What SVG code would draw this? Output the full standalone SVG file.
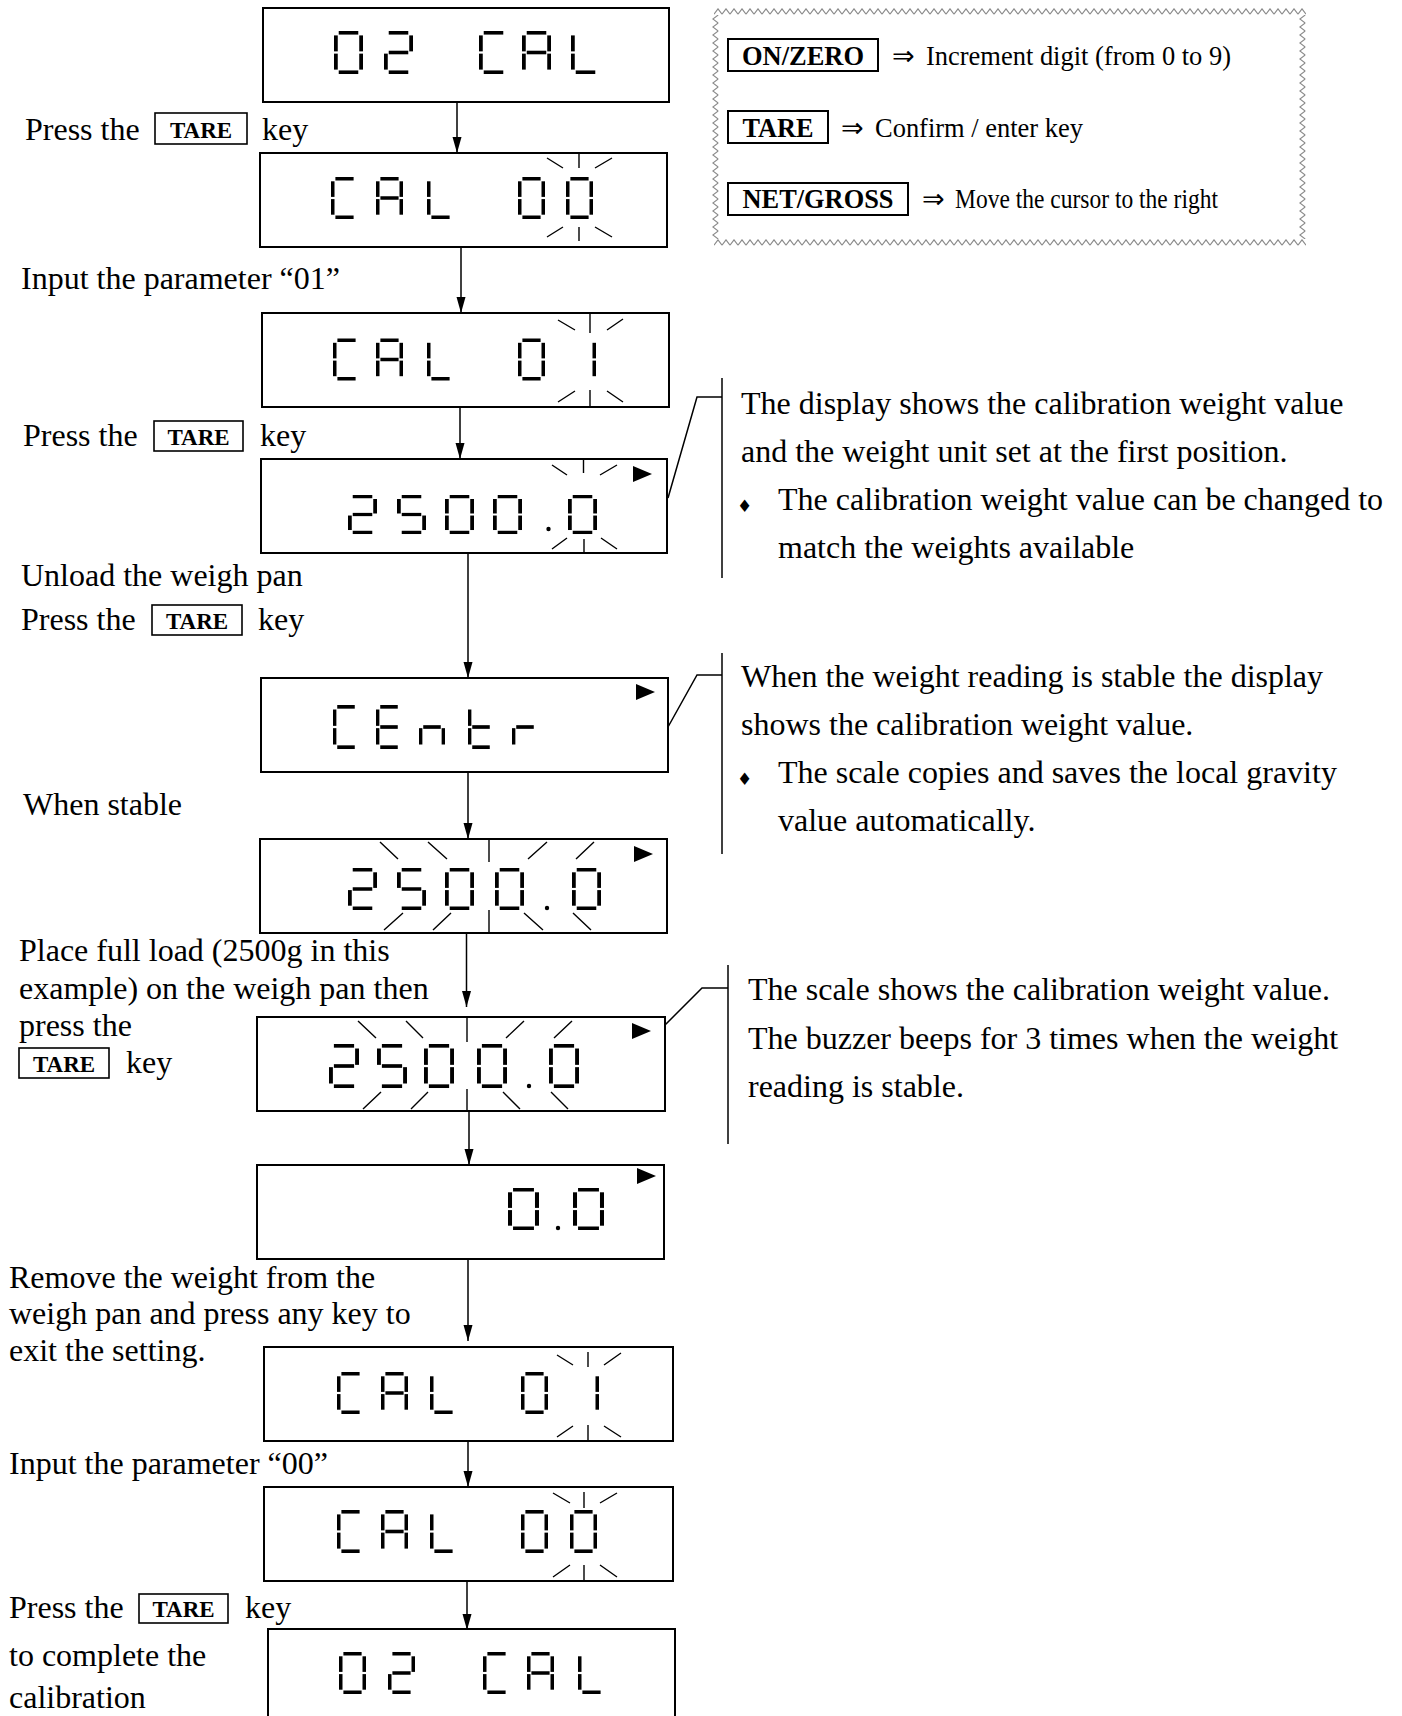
<svg xmlns="http://www.w3.org/2000/svg" width="1402" height="1716" viewBox="0 0 1402 1716">
<style>
.bx{fill:#fff;stroke:#000;stroke-width:2}
.t{font-family:"Liberation Serif","Times New Roman","DejaVu Serif",serif;font-size:32px;fill:#000}
.kt{font-family:"Liberation Serif","Times New Roman",serif;font-weight:bold;font-size:23px;text-anchor:middle;fill:#000}
.kb{fill:none;stroke:#000;stroke-width:1.6}
.c{stroke:#000;stroke-width:1.5;fill:none}
.bl{stroke:#000;stroke-width:1.4;fill:none}
.lg{font-family:"Liberation Serif","Times New Roman",serif;font-size:27px;fill:#000}
.lk{font-family:"Liberation Serif","Times New Roman",serif;font-weight:bold;font-size:27px;text-anchor:middle;fill:#000}
.ar{font-family:"DejaVu Sans",sans-serif;font-size:27px;fill:#000}
.bu{font-family:"DejaVu Sans",sans-serif;font-size:17px;fill:#000}
.zz{fill:none;stroke:#8a8a8a;stroke-width:1.1}
</style>
<defs>
<rect id="sa" x="4.4" y="0" width="18.2" height="3.5"/>
<rect id="sb" x="23.5" y="4.3" width="3.5" height="15.6"/>
<rect id="sc" x="23.5" y="22.1" width="3.5" height="15.6"/>
<rect id="sd" x="4.4" y="38.5" width="18.2" height="3.5"/>
<rect id="se" x="0" y="22.1" width="3.5" height="15.6"/>
<rect id="sf" x="0" y="4.3" width="3.5" height="15.6"/>
<rect id="sg" x="4.4" y="19.25" width="18.2" height="3.5"/>
<g id="g0"><use href="#sa"/><use href="#sb"/><use href="#sc"/><use href="#sd"/><use href="#se"/><use href="#sf"/></g>
<g id="g1"><use href="#sb"/><use href="#sc"/></g>
<g id="g2"><use href="#sa"/><use href="#sb"/><use href="#sg"/><use href="#se"/><use href="#sd"/></g>
<g id="g5"><use href="#sa"/><use href="#sf"/><use href="#sg"/><use href="#sc"/><use href="#sd"/></g>
<g id="gC"><use href="#sa"/><use href="#sf"/><use href="#se"/><use href="#sd"/></g>
<g id="gA"><use href="#sa"/><use href="#sb"/><use href="#sc"/><use href="#se"/><use href="#sf"/><use href="#sg"/></g>
<g id="gL"><use href="#sf"/><use href="#se"/><use href="#sd"/></g>
<g id="gE"><use href="#sa"/><use href="#sf"/><use href="#sg"/><use href="#se"/><use href="#sd"/></g>
<g id="gn"><use href="#se"/><use href="#sg"/><use href="#sc"/></g>
<g id="gt"><use href="#sf"/><use href="#se"/><use href="#sg"/><use href="#sd"/></g>
<g id="gr"><use href="#se"/><use href="#sg"/></g>
<path id="tri" d="M0,0 L19,8 L0,16 Z"/>
<marker id="ah" markerWidth="16" markerHeight="10" refX="16" refY="4.5" orient="auto" markerUnits="userSpaceOnUse"><path d="M0,0 L16,4.5 L0,9 Z" fill="#000"/></marker>
<pattern id="zzh" width="8" height="7" patternUnits="userSpaceOnUse"><polyline class="zz" points="0,6.2 4,0.8 8,6.2"/></pattern>
<pattern id="zzv" width="7" height="8" patternUnits="userSpaceOnUse"><polyline class="zz" points="6.2,0 0.8,4 6.2,8"/></pattern>
</defs>

<g id="connectors">
<line class="c" x1="457" y1="102" x2="457" y2="153" marker-end="url(#ah)"/>
<line class="c" x1="461" y1="247" x2="461" y2="313" marker-end="url(#ah)"/>
<line class="c" x1="460" y1="407" x2="460" y2="459" marker-end="url(#ah)"/>
<line class="c" x1="468" y1="553" x2="468" y2="678" marker-end="url(#ah)"/>
<line class="c" x1="468" y1="772" x2="468" y2="839" marker-end="url(#ah)"/>
<line class="c" x1="466.5" y1="933" x2="466.5" y2="1007" marker-end="url(#ah)"/>
<line class="c" x1="469" y1="1111" x2="469" y2="1165" marker-end="url(#ah)"/>
<line class="c" x1="468" y1="1259" x2="468" y2="1341" marker-end="url(#ah)"/>
<line class="c" x1="468" y1="1441" x2="468" y2="1487" marker-end="url(#ah)"/>
<line class="c" x1="467" y1="1581" x2="467" y2="1630" marker-end="url(#ah)"/>
</g>

<g id="n1">
<rect class="bx" x="263" y="8" width="406" height="94"/>
<use href="#g0" transform="translate(334,31) scale(1.074,1.024)"/>
<use href="#g2" transform="translate(384,31) scale(1.074,1.024)"/>
<use href="#gC" transform="translate(479,31) scale(1.074,1.024)"/>
<use href="#gA" transform="translate(522,31) scale(1.074,1.024)"/>
<use href="#gL" transform="translate(571,31) scale(1.074,1.024)"/>
</g>

<g id="n2">
<rect class="bx" x="260" y="153" width="407" height="94"/>
<use href="#gC" x="331" y="177"/>
<use href="#gA" x="376" y="177"/>
<use href="#gL" x="427" y="177"/>
<use href="#g0" x="518" y="177"/>
<use href="#g0" x="566" y="177"/>
<path class="bl" d="M579,154V168 M547,158L563,168 M595,168L612,158 M579,227V241 M547,237L563,227 M595,227L612,237"/>
</g>

<g id="n3">
<rect class="bx" x="262" y="313" width="407" height="94"/>
<use href="#gC" x="333" y="338.5"/>
<use href="#gA" x="376" y="338.5"/>
<use href="#gL" x="427" y="338.5"/>
<use href="#g0" x="518" y="338.5"/>
<use href="#g1" x="569" y="338.5"/>
<path class="bl" d="M590,314V333 M558,320L575,330 M607,330L623,319 M590,390V406 M558,402L575,391 M607,391L623,402"/>
</g>

<g id="n4">
<rect class="bx" x="261" y="459" width="406" height="94"/>
<use href="#g2" transform="translate(348,495) scale(1.074,0.929)"/>
<use href="#g5" transform="translate(397,495) scale(1.074,0.929)"/>
<use href="#g0" transform="translate(445,495) scale(1.074,0.929)"/>
<use href="#g0" transform="translate(493,495) scale(1.074,0.929)"/>
<circle cx="548.5" cy="529" r="2.2"/>
<use href="#g0" transform="translate(568,495) scale(1.074,0.929)"/>
<use href="#tri" x="633" y="466"/>
<path class="bl" d="M583.5,460V473 M552,465L567,475 M600,475L617,465 M584,539V552 M552,549L567,538 M601,538L617,549"/>
</g>

<g id="n5">
<rect class="bx" x="261" y="678" width="407" height="94"/>
<use href="#gC" transform="translate(333,705) scale(0.963,1.048)"/>
<use href="#gE" transform="translate(376,705) scale(0.963,1.048)"/>
<use href="#gn" transform="translate(419,705) scale(0.963,1.048)"/>
<use href="#gt" transform="translate(468,705) scale(0.963,1.048)"/>
<use href="#gr" transform="translate(512,705) scale(0.963,1.048)"/>
<use href="#tri" x="636" y="684"/>
</g>

<g id="n6">
<rect class="bx" x="260" y="839" width="407" height="94"/>
<use href="#g2" transform="translate(348,868) scale(1.074,1)"/>
<use href="#g5" transform="translate(397,868) scale(1.074,1)"/>
<use href="#g0" transform="translate(445,868) scale(1.074,1)"/>
<use href="#g0" transform="translate(495,868) scale(1.074,1)"/>
<circle cx="547" cy="908" r="2.2"/>
<use href="#g0" transform="translate(572,868) scale(1.074,1)"/>
<use href="#tri" x="634" y="846"/>
<path class="bl" d="M489,840V862 M380,842L398,859 M428,842L447,859 M528,859L547,842 M576,859L594,842 M489,910V932 M384,930L403,913 M433,930L451,913 M524,913L543,930 M573,913L591,930"/>
</g>

<g id="n7">
<rect class="bx" x="257" y="1017" width="408" height="94"/>
<use href="#g2" transform="translate(329,1044) scale(1.111,1.048)"/>
<use href="#g5" transform="translate(377,1044) scale(1.111,1.048)"/>
<use href="#g0" transform="translate(424,1044) scale(1.111,1.048)"/>
<use href="#g0" transform="translate(477,1044) scale(1.111,1.048)"/>
<circle cx="529" cy="1086" r="2.2"/>
<use href="#g0" transform="translate(549,1044) scale(1.111,1.048)"/>
<use href="#tri" x="632" y="1023"/>
<path class="bl" d="M467,1018V1042 M358,1021L376,1038 M406,1021L423,1038 M506,1038L524,1021 M554,1038L572,1021 M467,1089V1110 M363,1109L381,1092 M411,1109L428,1092 M503,1092L520,1109 M551,1092L568,1109"/>
</g>

<g id="n8">
<rect class="bx" x="257" y="1165" width="407" height="94"/>
<use href="#g0" transform="translate(508,1188) scale(1.148,1)"/>
<circle cx="558" cy="1228" r="2.2"/>
<use href="#g0" transform="translate(573,1188) scale(1.148,1)"/>
<use href="#tri" x="637" y="1168"/>
</g>

<g id="n9">
<rect class="bx" x="264" y="1347" width="409" height="94"/>
<use href="#gC" x="337" y="1372"/>
<use href="#gA" x="381" y="1372"/>
<use href="#gL" x="430" y="1372"/>
<use href="#g0" x="521" y="1372"/>
<use href="#g1" x="572" y="1372"/>
<path class="bl" d="M588,1352V1367 M557,1355L573,1365 M604,1365L621,1353 M588,1425V1440 M557,1437L573,1426 M604,1426L621,1437"/>
</g>

<g id="n10">
<rect class="bx" x="264" y="1487" width="409" height="94"/>
<use href="#gC" transform="translate(337,1510) scale(1,1.024)"/>
<use href="#gA" transform="translate(381,1510) scale(1,1.024)"/>
<use href="#gL" transform="translate(430,1510) scale(1,1.024)"/>
<use href="#g0" transform="translate(521,1510) scale(1,1.024)"/>
<use href="#g0" transform="translate(570,1510) scale(1,1.024)"/>
<path class="bl" d="M584,1492V1508 M553,1493L570,1503 M600,1503L617,1493 M584,1565V1580 M553,1577L570,1565 M600,1565L617,1577"/>
</g>

<g id="n11">
<rect class="bx" x="268" y="1629" width="407" height="120"/>
<use href="#g0" x="339" y="1652"/>
<use href="#g2" x="388" y="1652"/>
<use href="#gC" x="483" y="1652"/>
<use href="#gA" x="527" y="1652"/>
<use href="#gL" x="578" y="1652"/>
</g>

<g id="legend">
<rect width="592" height="7" fill="url(#zzh)" transform="translate(714,8)"/>
<rect width="592" height="7" fill="url(#zzh)" transform="translate(714,239)"/>
<rect width="7" height="224" fill="url(#zzv)" transform="translate(712,15)"/>
<rect width="7" height="224" fill="url(#zzv)" transform="translate(1299,15)"/>
<rect class="kb" x="728" y="39" width="150" height="32" style="stroke-width:2"/>
<text class="lk" x="803" y="65" textLength="122" lengthAdjust="spacingAndGlyphs">ON/ZERO</text>
<text class="ar" x="892" y="65">⇒</text>
<text class="lg" x="926" y="65" textLength="305" lengthAdjust="spacingAndGlyphs">Increment digit (from 0 to 9)</text>
<rect class="kb" x="728" y="111" width="100" height="32" style="stroke-width:2"/>
<text class="lk" x="778" y="137" textLength="71" lengthAdjust="spacingAndGlyphs">TARE</text>
<text class="ar" x="841" y="137">⇒</text>
<text class="lg" x="875" y="137" textLength="208" lengthAdjust="spacingAndGlyphs">Confirm / enter key</text>
<rect class="kb" x="728" y="183" width="180" height="32" style="stroke-width:2"/>
<text class="lk" x="818" y="208" textLength="151" lengthAdjust="spacingAndGlyphs">NET/GROSS</text>
<text class="ar" x="922" y="208">⇒</text>
<text class="lg" x="955" y="208" textLength="263" lengthAdjust="spacingAndGlyphs">Move the cursor to the right</text>
</g>

<g id="callouts">
<polyline class="c" points="668,498 697,397 722,397"/>
<line class="c" x1="722" y1="378" x2="722" y2="578"/>
<polyline class="c" points="668,727 697,675 722,675"/>
<line class="c" x1="722" y1="653" x2="722" y2="854"/>
<polyline class="c" points="665,1025 702,988 728,988"/>
<line class="c" x1="728" y1="965" x2="728" y2="1144"/>
</g>

<g id="notes">
<text class="t" x="741" y="414">The display shows the calibration weight value</text>
<text class="t" x="741" y="462">and the weight unit set at the first position.</text>
<text class="bu" x="737" y="512">♦</text>
<text class="t" x="778" y="510">The calibration weight value can be changed to</text>
<text class="t" x="778" y="558">match the weights available</text>
<text class="t" x="741" y="687">When the weight reading is stable the display</text>
<text class="t" x="741" y="735">shows the calibration weight value.</text>
<text class="bu" x="737" y="785">♦</text>
<text class="t" x="778" y="783">The scale copies and saves the local gravity</text>
<text class="t" x="778" y="831">value automatically.</text>
<text class="t" x="748" y="1000">The scale shows the calibration weight value.</text>
<text class="t" x="748" y="1049">The buzzer beeps for 3 times when the weight</text>
<text class="t" x="748" y="1097">reading is stable.</text>
</g>

<g id="steps">
<text class="t" x="25" y="140">Press the</text>
<rect class="kb" x="155" y="113" width="92" height="31"/>
<text class="kt" x="201" y="138">TARE</text>
<text class="t" x="262" y="140">key</text>
<text class="t" x="21" y="289">Input the parameter “01”</text>
<text class="t" x="23" y="446">Press the</text>
<rect class="kb" x="154" y="421" width="89" height="30"/>
<text class="kt" x="198.5" y="445">TARE</text>
<text class="t" x="260" y="446">key</text>
<text class="t" x="21" y="586">Unload the weigh pan</text>
<text class="t" x="21" y="630">Press the</text>
<rect class="kb" x="152" y="605" width="90" height="30"/>
<text class="kt" x="197" y="629">TARE</text>
<text class="t" x="258" y="630">key</text>
<text class="t" x="23" y="815">When stable</text>
<text class="t" x="19" y="961">Place full load (2500g in this</text>
<text class="t" x="19" y="999">example) on the weigh pan then</text>
<text class="t" x="19" y="1036">press the</text>
<rect class="kb" x="19" y="1048" width="90" height="30"/>
<text class="kt" x="64" y="1072">TARE</text>
<text class="t" x="126" y="1073">key</text>
<text class="t" x="9" y="1288">Remove the weight from the</text>
<text class="t" x="9" y="1324">weigh pan and press any key to</text>
<text class="t" x="9" y="1361">exit the setting.</text>
<text class="t" x="9" y="1474">Input the parameter “00”</text>
<text class="t" x="9" y="1618">Press the</text>
<rect class="kb" x="139" y="1594" width="89" height="29"/>
<text class="kt" x="183.5" y="1617">TARE</text>
<text class="t" x="245" y="1618">key</text>
<text class="t" x="9" y="1666">to complete the</text>
<text class="t" x="9" y="1708">calibration</text>
</g>
</svg>
